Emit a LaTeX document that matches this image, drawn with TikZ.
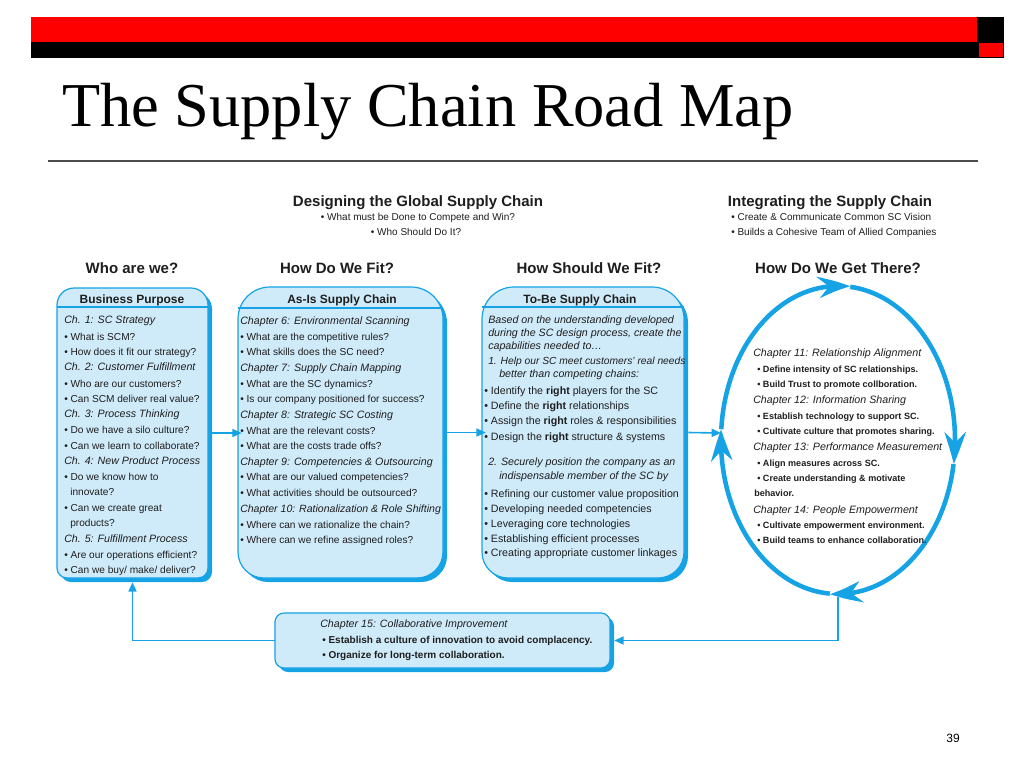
\documentclass[tikz,border=0pt]{standalone}
\usepackage{fontspec}
\setmainfont{Liberation Sans}
\newfontfamily\titlefont{Liberation Serif}
\usetikzlibrary{arrows.meta,fit,bending}
\definecolor{sblue}{RGB}{22,163,230}
\definecolor{lfill}{RGB}{207,234,249}
\definecolor{txt}{RGB}{30,30,30}
\newcommand\rbox[7]{%
 \fill[sblue] (#2+4,-#3-4-#6) arc[start angle=180,end angle=90,radius=#6] -- (#4+4-#6,-#3-4) arc[start angle=90,end angle=0,radius=#6] -- (#4+4,-#5-4+#7) arc[start angle=0,end angle=-90,radius=#7] -- (#2+4+#7,-#5-4) arc[start angle=-90,end angle=-180,radius=#7] -- cycle;
 \filldraw[fill=lfill, draw=sblue, line width=0.9pt] (#2,-#3-#6) arc[start angle=180,end angle=90,radius=#6] -- (#4-#6,-#3) arc[start angle=90,end angle=0,radius=#6] -- (#4,-#5+#7) arc[start angle=0,end angle=-90,radius=#7] -- (#2+#7,-#5) arc[start angle=-90,end angle=-180,radius=#7] -- cycle;
 \node[fit={(#2,-#3)(#4,-#5)}, inner sep=0] (#1) {};
}
\begin{document}
\begin{tikzpicture}[x=0.75pt,y=0.75pt,
 hd/.style={font=\bfseries\fontsize{11.25}{13}\selectfont, anchor=base, text=txt, inner sep=0},
 sm/.style={font=\fontsize{7.5}{9}\selectfont, anchor=base, text=txt, inner sep=0},
 bh/.style={font=\bfseries\fontsize{9}{10}\selectfont, anchor=base, text=txt, inner sep=0},
 it/.style={font=\itshape\fontsize{8}{9}\selectfont, anchor=base west, text=txt, inner sep=0},
 tx/.style={font=\fontsize{7.6}{9}\selectfont, anchor=base west, text=txt, inner sep=0},
 tx3/.style={font=\fontsize{8}{9}\selectfont, anchor=base west, text=txt, inner sep=0},
 eit/.style={font=\itshape\fontsize{8}{9}\selectfont, anchor=base west, text=txt, inner sep=0},
 eb/.style={font=\bfseries\fontsize{6.8}{8}\selectfont, anchor=base west, text=txt, inner sep=0},
 fb/.style={font=\bfseries\fontsize{7.5}{8}\selectfont, anchor=base west, text=txt, inner sep=0},
 conn/.style={draw=sblue, line width=1.2pt, -{Triangle[length=7pt,width=6pt]}},
 ringarc/.style={draw=sblue, line width=3.4pt, -{Stealth[length=24pt,width=16pt,inset=8pt,bend]}}
]
\useasboundingbox (0,0) rectangle (1024,-768);
\fill[white] (0,0) rectangle (1024,-768);
% top bars
\fill[red] (31,-17) rectangle (977,-42);
\fill[black] (31,-42) rectangle (977,-58);
\fill[black] (977,-17) rectangle (1004,-58);
\fill[red] (979,-43) rectangle (1003,-57);
% title
\node[anchor=base west, inner sep=0, font=\titlefont\fontsize{46.8}{50}\selectfont] (title) at (62,-126) {The Supply Chain Road Map};
\draw[line width=1.1pt, color=black!70] (48,-161) -- (978,-161);
\node[anchor=base, inner sep=0, font=\fontsize{9}{10}\selectfont] (pg) at (953,-742) {39};
% headings
\node[hd] (h1) at (418,-206) {Designing the Global Supply Chain};
\node[sm] (h1a) at (418,-220) {• What must be Done to Compete and Win?};
\node[sm] (h1b) at (416,-235) {• Who Should Do It?};
\node[hd] (h2) at (830,-206) {Integrating the Supply Chain};
\node[sm, anchor=base west] (h2a) at (731,-220) {• Create \& Communicate Common SC Vision};
\node[sm, anchor=base west] (h2b) at (731,-235) {• Builds a Cohesive Team of Allied Companies};
\node[hd] (q1) at (132,-273) {Who are we?};
\node[hd] (q2) at (337,-273) {How Do We Fit?};
\node[hd] (q3) at (589,-273) {How Should We Fit?};
\node[hd] (q4) at (838,-273) {How Do We Get There?};
% boxes
\rbox{b1}{57}{288}{208}{578}{17}{10}
\rbox{b2}{238}{287}{443}{578}{32}{26}
\rbox{b3}{482}{287}{684}{578}{32}{26}
\rbox{b4}{275}{613}{610}{668}{9}{9}
\draw[sblue, line width=0.8pt] (57,-307) -- (208,-307);
\draw[sblue, line width=0.8pt] (238,-308) -- (443,-308);
\draw[sblue, line width=0.8pt] (482,-307) -- (684,-307);
\node[bh] (b1h) at (132,-303) {Business Purpose};
\node[bh] (b2h) at (342,-303) {As-Is Supply Chain};
\node[bh] (b3h) at (580,-303) {To-Be Supply Chain};
% box 1 text
\node[it] (a1) at (64,-323.5) {Ch. 1: SC Strategy};
\node[tx] (a2) at (64,-340.5) {• What is SCM?};
\node[tx] (a3) at (64,-355.5) {• How does it fit our strategy?};
\node[it] (a4) at (64,-370.5) {Ch. 2: Customer Fulfillment};
\node[tx] (a5) at (64,-387.5) {• Who are our customers?};
\node[tx] (a6) at (64,-402.5) {• Can SCM deliver real value?};
\node[it] (a7) at (64,-417.5) {Ch. 3: Process Thinking};
\node[tx] (a8) at (64,-433.5) {• Do we have a silo culture?};
\node[tx] (a9) at (64,-449.5) {• Can we learn to collaborate?};
\node[it] (a10) at (64,-464.5) {Ch. 4: New Product Process};
\node[tx] (a11) at (64,-480.5) {• Do we know how to};
\node[tx] (a12) at (70,-495.5) {innovate?};
\node[tx] (a13) at (64,-511.5) {• Can we create great};
\node[tx] (a14) at (70,-526.5) {products?};
\node[it] (a15) at (64,-542.5) {Ch. 5: Fulfillment Process};
\node[tx] (a16) at (64,-558.5) {• Are our operations efficient?};
\node[tx] (a17) at (64,-573.5) {• Can we buy/ make/ deliver?};
% box 2 text
\node[it] (c1) at (240,-324.5) {Chapter 6: Environmental Scanning};
\node[tx] (c2) at (240,-340.5) {• What are the competitive rules?};
\node[tx] (c3) at (240,-355.5) {• What skills does the SC need?};
\node[it] (c4) at (240,-371.5) {Chapter 7: Supply Chain Mapping};
\node[tx] (c5) at (240,-387.5) {• What are the SC dynamics?};
\node[tx] (c6) at (240,-402.5) {• Is our company positioned for success?};
\node[it] (c7) at (240,-418.5) {Chapter 8: Strategic SC Costing};
\node[tx] (c8) at (240,-434.5) {• What are the relevant costs?};
\node[tx] (c9) at (240,-449.5) {• What are the costs trade offs?};
\node[it] (c10) at (240,-465.5) {Chapter 9: Competencies \& Outsourcing};
\node[tx] (c11) at (240,-480.5) {• What are our valued competencies?};
\node[tx] (c12) at (240,-496.5) {• What activities should be outsourced?};
\node[it, font=\itshape\fontsize{7.9}{9}\selectfont] (c13) at (240,-512.5) {Chapter 10: Rationalization \& Role Shifting};
\node[tx] (c14) at (240,-528.5) {• Where can we rationalize the chain?};
\node[tx] (c15) at (240,-543.5) {• Where can we refine assigned roles?};
% box 3 text
\node[it] (d1) at (488,-323.5) {Based on the understanding developed};
\node[it] (d2) at (488,-336.5) {during the SC design process, create the};
\node[it] (d3) at (488,-349.5) {capabilities needed to…};
\node[it, font=\itshape\fontsize{7.7}{9}\selectfont] (d4) at (488,-364.5) {1. Help our SC meet customers’ real needs};
\node[it] (d5) at (499,-377.5) {better than competing chains:};
\node[tx3] (d6) at (484,-394.5) {• Identify the \textbf{right} players for the SC};
\node[tx3] (d7) at (484,-409.5) {• Define the \textbf{right} relationships};
\node[tx3] (d8) at (484,-424.5) {• Assign the \textbf{right} roles \& responsibilities};
\node[tx3] (d9) at (484,-440.5) {• Design the \textbf{right} structure \& systems};
\node[it] (d10) at (488,-465.5) {2. Securely position the company as an};
\node[it] (d11) at (499,-479.5) {indispensable member of the SC by};
\node[tx3] (d12) at (484,-497.5) {• Refining our customer value proposition};
\node[tx3] (d13) at (484,-512.5) {• Developing needed competencies};
\node[tx3] (d14) at (484,-527.5) {• Leveraging core technologies};
\node[tx3] (d15) at (484,-542.5) {• Establishing efficient processes};
\node[tx3] (d16) at (484,-556.5) {• Creating appropriate customer linkages};
% ring
\coordinate (rc) at (838,-440);
\draw[ringarc] ([shift={(rc)}]176:117 and 154) arc[start angle=176,end angle=84,x radius=117,y radius=154];
\draw[ringarc] ([shift={(rc)}]84:117 and 154) arc[start angle=84,end angle=-9,x radius=117,y radius=154];
\draw[ringarc] ([shift={(rc)}]-9:117 and 154) arc[start angle=-9,end angle=-94,x radius=117,y radius=154];
\draw[ringarc] ([shift={(rc)}]-94:117 and 154) arc[start angle=-94,end angle=-184,x radius=117,y radius=154];
\coordinate (ringW) at (721,-433);
\coordinate (ringS) at (838,-597);
% ring text
\node[eit] (e1) at (753,-356.5) {Chapter 11: Relationship Alignment};
\node[eb] (e2) at (757,-372) {• Define intensity of SC relationships.};
\node[eb] (e3) at (757,-387) {• Build Trust to promote collboration.};
\node[eit] (e4) at (753,-403) {Chapter 12: Information Sharing};
\node[eb] (e5) at (757,-419) {• Establish technology to support SC.};
\node[eb] (e6) at (757,-434.5) {• Cultivate culture that promotes sharing.};
\node[eit] (e7) at (753,-450.5) {Chapter 13: Performance Measurement};
\node[eb] (e8) at (757,-466) {• Align measures across SC.};
\node[eb] (e9) at (757,-481.5) {• Create understanding \& motivate};
\node[eb] (e10) at (754,-496.5) {behavior.};
\node[eit] (e11) at (753,-513) {Chapter 14: People Empowerment};
\node[eb] (e12) at (757,-528.5) {• Cultivate empowerment environment.};
\node[eb] (e13) at (757,-543) {• Build teams to enhance collaboration.};
% bottom box text
\node[eit] (f1) at (320,-627.5) {Chapter 15: Collaborative Improvement};
\node[fb] (f2) at (322,-643) {• Establish a culture of innovation to avoid complacency.};
\node[fb] (f3) at (322,-658.5) {• Organize for long-term collaboration.};
% connectors
\draw[conn] ([xshift=3pt]b1.east) -- ([xshift=3pt]b1.east -| b2.west);
\draw[conn] ([xshift=3pt]b2.east) -- ([xshift=3pt]b2.east -| b3.west);
\draw[conn] ([xshift=3pt]b3.east) -- (ringW);
\draw[conn] (ringS) |- ([xshift=3pt]b4.east);
\draw[conn] (b4.west) -| ([yshift=-3pt]b1.south);
\end{tikzpicture}
\end{document}
